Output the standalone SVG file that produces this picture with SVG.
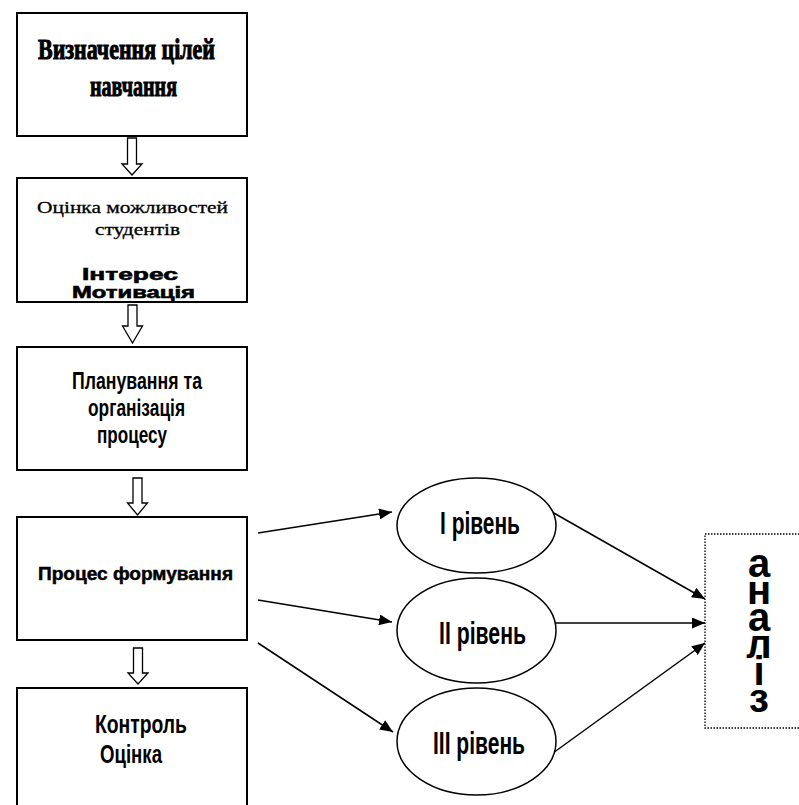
<svg xmlns="http://www.w3.org/2000/svg" width="799" height="805" viewBox="0 0 799 805">
<style>
.box{fill:#fff;stroke:#000;stroke-width:2}
.ell{fill:#fff;stroke:#000;stroke-width:1.5}
.hol{fill:#fff;stroke:#000;stroke-width:1.3}
.con{stroke:#000;stroke-width:1.5;fill:none;marker-end:url(#ah)}
.sans{font-family:"Liberation Sans",Arial,sans-serif;font-weight:bold;fill:#000}
.serif{font-family:"Liberation Serif","Times New Roman",serif;fill:#000}
.vert{writing-mode:vertical-rl;text-orientation:upright}
</style>
<defs>
<marker id="ah" markerUnits="userSpaceOnUse" markerWidth="13" markerHeight="11" refX="13" refY="5.5" orient="auto">
<path d="M0,0 L13,5.5 L0,11 z" fill="#000"/>
</marker>
</defs>
<rect width="799" height="805" fill="#fff"/>

<g id="connectors">
<polygon class="hol" points="127.5,138 136.5,138 136.5,164 142,164 132,175 122,164 127.5,164"/>
<polygon class="hol" points="128,305 137,305 137,326 142.5,326 132.5,343 122.5,326 128,326"/>
<polygon class="hol" points="133,478 142,478 142,503 147.5,503 137.5,515 127.5,503 133,503"/>
<polygon class="hol" points="133.5,648 142.5,648 142.5,673 148,673 138,684 128,673 133.5,673"/>
<line class="con" x1="258" y1="533" x2="392" y2="512"/>
<line class="con" x1="258" y1="600" x2="392" y2="622"/>
<line class="con" x1="258" y1="643" x2="393" y2="732"/>
<line class="con" x1="552" y1="512" x2="705" y2="599"/>
<line class="con" x1="552" y1="623" x2="705" y2="623"/>
<line class="con" x1="553" y1="753" x2="705" y2="643"/>
</g>

<g id="node1">
<rect class="box" x="17" y="13" width="230" height="123"/>
<text class="serif" font-weight="bold" font-size="29" x="38" y="59" textLength="177" lengthAdjust="spacingAndGlyphs" stroke="#000" stroke-width="1">Визначення цілей</text>
<text class="serif" font-weight="bold" font-size="29" x="90" y="96" textLength="87" lengthAdjust="spacingAndGlyphs" stroke="#000" stroke-width="1">навчання</text>
</g>

<g id="node2">
<rect class="box" x="17" y="178" width="230" height="124"/>
<text class="serif" font-size="17" x="37" y="213" textLength="191" lengthAdjust="spacingAndGlyphs" stroke="#000" stroke-width="0.3">Оцінка можливостей</text>
<text class="serif" font-size="17" x="95" y="235" textLength="85" lengthAdjust="spacingAndGlyphs" stroke="#000" stroke-width="0.3">студентів</text>
<text class="sans" font-size="17" x="82" y="280" textLength="96" lengthAdjust="spacingAndGlyphs" stroke="#000" stroke-width="0.6">Інтерес</text>
<text class="sans" font-size="17" x="72" y="298" textLength="123" lengthAdjust="spacingAndGlyphs" stroke="#000" stroke-width="0.6">Мотивація</text>
</g>

<g id="node3">
<rect class="box" x="17" y="347" width="230" height="123"/>
<text class="sans" font-size="24" x="72" y="389" textLength="130" lengthAdjust="spacingAndGlyphs">Планування та</text>
<text class="sans" font-size="24" x="88" y="416" textLength="97" lengthAdjust="spacingAndGlyphs">організація</text>
<text class="sans" font-size="24" x="97" y="443" textLength="70" lengthAdjust="spacingAndGlyphs">процесу</text>
</g>

<g id="node4">
<rect class="box" x="17" y="517" width="230" height="123"/>
<text class="sans" font-size="19" x="38" y="580" textLength="195" lengthAdjust="spacingAndGlyphs" stroke="#000" stroke-width="0.5">Процес формування</text>
</g>

<g id="node5">
<rect class="box" x="17" y="688" width="230" height="130"/>
<text class="sans" font-size="26" x="95" y="733" textLength="92" lengthAdjust="spacingAndGlyphs">Контроль</text>
<text class="sans" font-size="26" x="100" y="763" textLength="62" lengthAdjust="spacingAndGlyphs">Оцінка</text>
</g>

<g id="level1">
<ellipse class="ell" cx="476.5" cy="525.5" rx="79.5" ry="47.5"/>
<text class="sans" font-size="31" x="440" y="534" textLength="80" lengthAdjust="spacingAndGlyphs">I рівень</text>
</g>
<g id="level2">
<ellipse class="ell" cx="476.5" cy="630.5" rx="79.5" ry="52.5"/>
<text class="sans" font-size="31" x="439" y="644" textLength="87" lengthAdjust="spacingAndGlyphs">II рівень</text>
</g>
<g id="level3">
<ellipse class="ell" cx="476.5" cy="741.5" rx="79.5" ry="53.5"/>
<text class="sans" font-size="31" x="433" y="754" textLength="92" lengthAdjust="spacingAndGlyphs">III рівень</text>
</g>

<g id="analysis">
<rect x="705" y="534" width="100" height="194" fill="#fff" stroke="#000" stroke-width="1.3" stroke-dasharray="1.5,1.5"/>
<text class="sans vert" font-size="40" x="759" y="541" letter-spacing="-17">аналіз</text>
</g>
</svg>
